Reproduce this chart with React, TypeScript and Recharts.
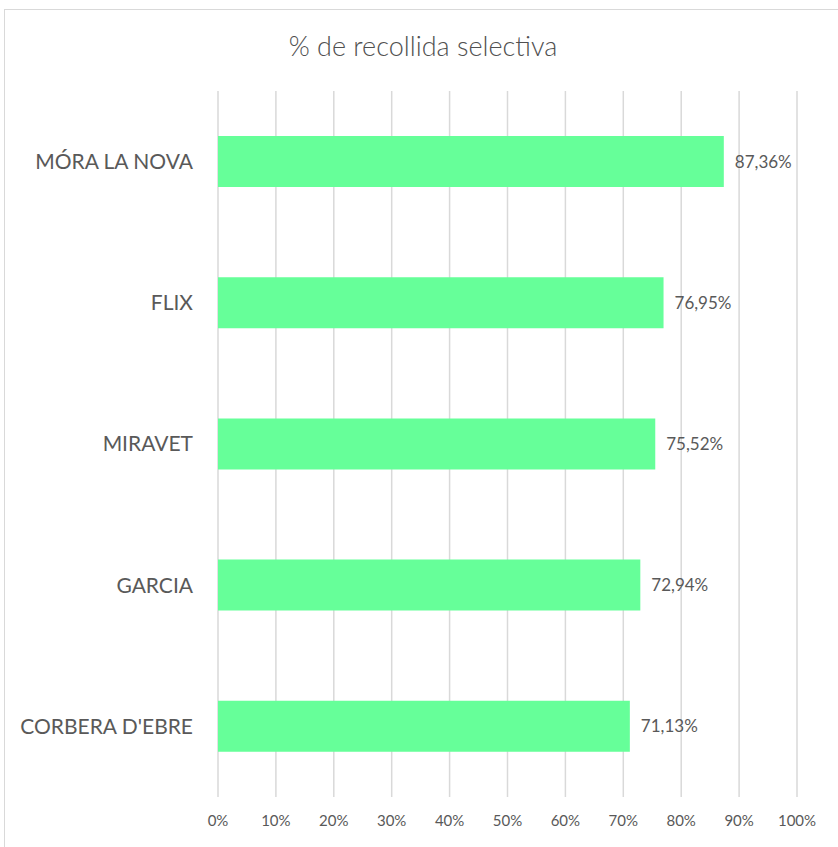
import { Bar, BarChart, CartesianGrid, LabelList, XAxis, YAxis } from 'recharts';

const municipis = ['MÓRA LA NOVA', 'FLIX', 'MIRAVET', 'GARCIA', "CORBERA D'EBRE"];
const percentatges = [87.36, 76.95, 75.52, 72.94, 71.13];
const ticks = [0, 10, 20, 30, 40, 50, 60, 70, 80, 90, 100];

const data = municipis.map((nom, i) => ({ nom, valor: percentatges[i] }));

const font = 'Lato, "Open Sans", sans-serif';
const grey = '#595959';

export default function App() {
  return (
    <div
      style={{
        position: 'absolute',
        left: 0,
        top: 0,
        width: 838,
        height: 847,
        overflow: 'hidden',
        background: '#fff',
        fontFamily: font,
      }}
    >
      <div
        style={{
          position: 'absolute',
          left: 4,
          top: 9,
          width: 850,
          height: 850,
          border: '1px solid #d9d9d9',
        }}
      />
      <div
        style={{
          position: 'absolute',
          left: 0,
          top: 29,
          width: 846,
          textAlign: 'center',
          fontSize: 27,
          fontWeight: 300,
          color: '#505050',
        }}
      >
        % de recollida selectiva
      </div>
      <BarChart
        width={838}
        height={847}
        data={data}
        layout="vertical"
        margin={{ top: 91, right: 41, bottom: 0, left: 0 }}
        style={{ position: 'absolute', left: 0, top: 0 }}
      >
        <CartesianGrid horizontal={false} stroke="#d9d9d9" strokeWidth={1.5} />
        <XAxis
          type="number"
          domain={[0, 100]}
          ticks={ticks}
          axisLine={false}
          tickLine={false}
          tickSize={0}
          tickMargin={18}
          height={50}
          tickFormatter={(v: number) => `${v}%`}
          tick={{ fill: grey, fontSize: 15, fontFamily: font }}
        />
        <YAxis
          type="category"
          dataKey="nom"
          width={218}
          axisLine={false}
          tickLine={false}
          tickSize={0}
          tickMargin={25}
          tick={{ fill: grey, fontSize: 21, fontFamily: font }}
        />
        <Bar dataKey="valor" fill="#66ff99" barSize={51} isAnimationActive={false}>
          <LabelList
            dataKey="valor"
            position="right"
            offset={11}
            fill={grey}
            fontSize={17}
            fontFamily={font}
            formatter={(v: number) => `${v.toFixed(2).replace('.', ',')}%`}
          />
        </Bar>
      </BarChart>
    </div>
  );
}
